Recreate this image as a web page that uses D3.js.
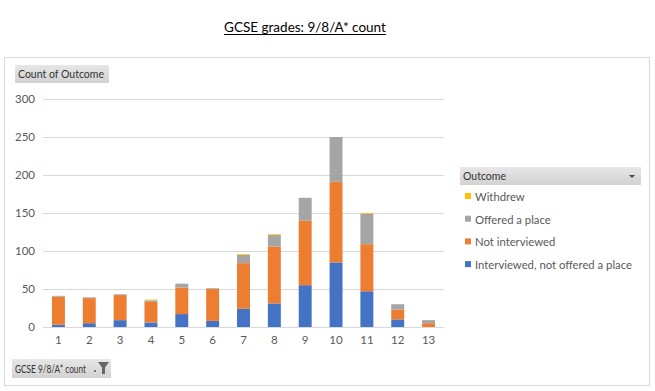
<!DOCTYPE html>
<html><head><meta charset="utf-8">
<script src="https://cdn.jsdelivr.net/npm/d3@7/dist/d3.min.js"></script>
<style>
body{margin:0;background:#fff;}
svg{display:block;font-family:Lato,"Open Sans",sans-serif;}
</style></head>
<body><svg id="c" width="655" height="391"></svg>
<script>
const categories = ["1","2","3","4","5","6","7","8","9","10","11","12","13"];
const seriesNames = ["Interviewed, not offered a place","Not interviewed","Offered a place","Withdrew"];
const interviewed   = [3,5,9,6,17,8,24,31,55,85,47,10,0];
const notInterviewed= [37,33,33,27,35,42,60,75,85,106,62,13,5];
const offered       = [1,1,1,2,5,1,11,15,30,59,40,7,4];
const withdrew      = [0,0,0,1,0,0,1,1,0,0,1,0,0];
const yTicks = [0,50,100,150,200,250,300];
const colors = ["#4472C4","#ED7D31","#A5A5A5","#FFC000"];

const svg = d3.select("#c");
const textCol = "#595959";

// title
const title = svg.append("text").attr("x",305).attr("y",32).attr("text-anchor","middle")
  .attr("font-size",13.5).attr("fill","#000").text("GCSE grades: 9/8/A* count");
const tb = title.node().getBBox();
svg.append("line").attr("x1",tb.x).attr("x2",tb.x+tb.width).attr("y1",34.5).attr("y2",34.5)
  .attr("stroke","#000").attr("stroke-width",1);

// frame
svg.append("rect").attr("x",4.5).attr("y",57.5).attr("width",645).attr("height",328)
  .attr("fill","#fff").attr("stroke","#d9d9d9");

const rows = categories.map((c,i)=>({cat:c, s0:interviewed[i], s1:notInterviewed[i], s2:offered[i], s3:withdrew[i]}));
const stack = d3.stack().keys(["s0","s1","s2","s3"])(rows);

const x = d3.scaleBand().domain(categories).range([43,444]).paddingInner(0.58).paddingOuter(0.29);
const y = d3.scaleLinear().domain([0,300]).range([327,99]);

// gridlines
svg.append("g").selectAll("line").data(yTicks).join("line")
  .attr("x1",43).attr("x2",444).attr("y1",d=>Math.round(y(d))+0.5).attr("y2",d=>Math.round(y(d))+0.5)
  .attr("stroke","#d9d9d9");

// y axis labels
const yAxis = d3.axisLeft(y).tickValues(yTicks).tickSize(0).tickPadding(0);
const ya = svg.append("g").attr("transform","translate(35,0)").call(yAxis);
ya.select(".domain").remove();
ya.selectAll("text").attr("fill",textCol).attr("font-size",11.5).attr("font-family","Lato,'Open Sans',sans-serif");

// bars
svg.append("g").selectAll("g").data(stack).join("g").attr("fill",(d,i)=>colors[i])
  .selectAll("rect").data(d=>d).join("rect")
  .attr("x",d=>x(d.data.cat)).attr("width",x.bandwidth())
  .attr("y",d=>y(d[1])).attr("height",d=>y(d[0])-y(d[1]));

// x axis labels
const xAxis = d3.axisBottom(x).tickSize(0).tickPadding(0);
const xa = svg.append("g").attr("transform","translate(0,336)").call(xAxis);
xa.select(".domain").remove();
xa.selectAll("text").attr("fill",textCol).attr("font-size",11.5).attr("dy","0.71em").attr("font-family","Lato,'Open Sans',sans-serif");

// gradient for buttons
const defs = svg.append("defs");
const g = defs.append("linearGradient").attr("id","btn").attr("x1",0).attr("x2",0).attr("y1",0).attr("y2",1);
g.append("stop").attr("offset","0%").attr("stop-color","#e6e6e6");
g.append("stop").attr("offset","100%").attr("stop-color","#d2d2d2");

// Count of Outcome button
svg.append("rect").attr("x",15).attr("y",65).attr("width",94).attr("height",18).attr("fill","url(#btn)");
svg.append("text").attr("x",18).attr("y",78).attr("font-size",10.5).attr("fill","#333").text("Count of Outcome");

// bottom button
svg.append("rect").attr("x",12).attr("y",359).attr("width",99).attr("height",19).attr("fill","url(#btn)");
svg.append("text").attr("x",15).attr("y",372.5).attr("font-size",11.5).attr("fill","#333")
  .attr("textLength",71).attr("lengthAdjust","spacingAndGlyphs").text("GCSE 9/8/A* count");
svg.append("circle").attr("cx",95).attr("cy",371).attr("r",0.9).attr("fill","#444");
svg.append("path").attr("d","M98,362 L109,362 L105,367.5 L105,374 L102,374 L102,367.5 Z").attr("fill","#666");

// legend
svg.append("rect").attr("x",460).attr("y",167).attr("width",181).attr("height",18).attr("fill","url(#btn)");
svg.append("text").attr("x",463).attr("y",180).attr("font-size",10.5).attr("fill","#333").text("Outcome");
svg.append("path").attr("d","M629,175 L635,175 L632,178 Z").attr("fill","#444");

const legendOrder = [3,2,1,0];
const lg = svg.append("g").selectAll("g").data(legendOrder).join("g")
  .attr("transform",(d,i)=>`translate(465,${197+i*22.7})`);
lg.append("rect").attr("x",0).attr("y",-4).attr("width",6).attr("height",6).attr("fill",d=>colors[d]);
lg.append("text").attr("x",10).attr("y",0).attr("dy","0.35em").attr("font-size",11.3).attr("fill",textCol)
  .text(d=>seriesNames[d]);
</script></body></html>
